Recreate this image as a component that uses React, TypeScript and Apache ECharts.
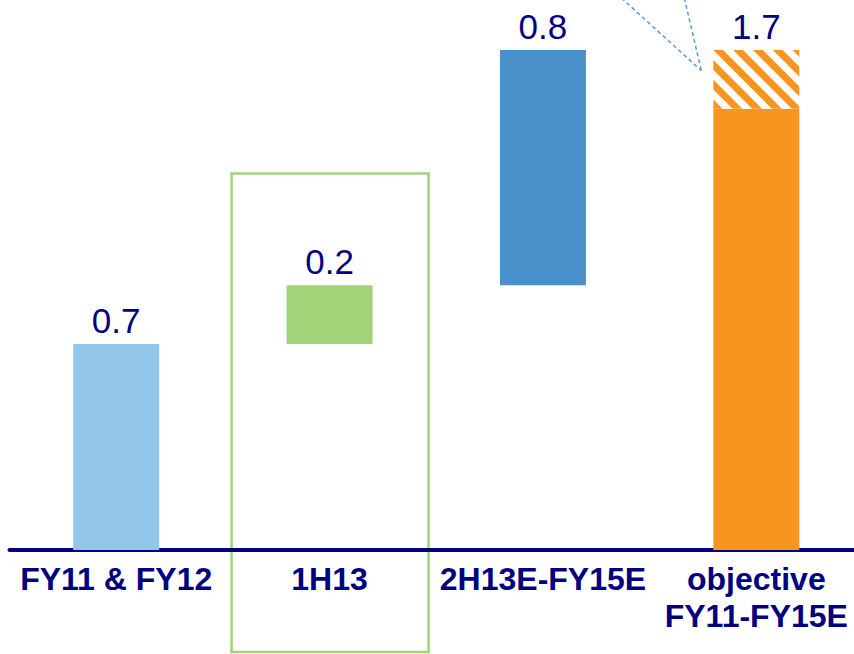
import React, { useEffect, useRef } from "react";
import * as echarts from "echarts";

// Waterfall categories and increments
const categories = ["FY11 & FY12", "1H13", "2H13E-FY15E", "objective\nFY11-FY15E"];
const increments = [0.7, 0.2, 0.8];
// Objective bar: firm part plus hatched buffer up to the total
const objectiveTotal = 1.7;
const objectiveFirm = 1.5;

const barColors = ["#92C6EB", "#A2D379", "#4A90CB", "#F7951F"];
const navy = "#000080";
const font = "'Liberation Sans', Arial, sans-serif";

export default function App() {
  const ref = useRef<HTMLDivElement>(null);

  useEffect(() => {
    if (!ref.current) return;
    const chart = echarts.init(ref.current, undefined, { renderer: "svg" });

    // running bases for the floating steps
    const bases: number[] = [];
    let acc = 0;
    increments.forEach((v) => {
      bases.push(acc);
      acc += v;
    });
    bases.push(0);

    const stepValues = [...increments, objectiveFirm];
    const hatchValues = categories.map((_, i) =>
      i === categories.length - 1 ? +(objectiveTotal - objectiveFirm).toFixed(2) : "-"
    );

    const valueLabel = {
      show: true,
      position: "top" as const,
      distance: 6,
      fontSize: 35,
      fontFamily: font,
      color: navy,
    };

    chart.setOption({
      animation: false,
      grid: { left: 9.5, right: 9, top: 0, bottom: 104 },
      xAxis: {
        type: "category",
        data: categories,
        axisLine: { lineStyle: { color: navy, width: 4 } },
        axisTick: { show: false },
        axisLabel: {
          color: navy,
          fontSize: 32,
          fontWeight: "bold",
          fontFamily: font,
          lineHeight: 37,
          margin: 10,
          interval: 0,
        },
      },
      yAxis: { type: "value", show: false, min: 0, max: 1.87, splitLine: { show: false } },
      series: [
        {
          type: "bar",
          stack: "wf",
          barWidth: 86,
          data: bases,
          itemStyle: { color: "transparent" },
          silent: true,
        },
        {
          type: "bar",
          stack: "wf",
          barWidth: 86,
          data: stepValues.map((v, i) => ({
            value: v,
            itemStyle: { color: barColors[i] },
            label: { show: i < increments.length },
          })),
          label: { ...valueLabel, formatter: (p: any) => p.value.toFixed(1) },
        },
        {
          type: "bar",
          stack: "wf",
          barWidth: 86,
          data: hatchValues,
          itemStyle: {
            color: "#ffffff",
            decal: {
              symbol: "rect",
              symbolSize: 1,
              color: barColors[3],
              dashArrayX: [1, 0],
              dashArrayY: [7, 7],
              rotation: Math.PI / 4,
            },
          },
          label: { ...valueLabel, formatter: () => objectiveTotal.toFixed(1) },
        },
      ],
    });

    // highlight frame around the 1H13 column and callout lines
    const cx = chart.convertToPixel({ xAxisIndex: 0 }, categories[1]) as number;
    const objX = chart.convertToPixel({ xAxisIndex: 0 }, categories[3]) as number;
    const frameTop = chart.convertToPixel({ yAxisIndex: 0 }, 1.28) as number;
    const tipY = chart.convertToPixel({ yAxisIndex: 0 }, 1.63) as number;
    const tipX = objX - 55;
    chart.setOption({
      graphic: [
        {
          type: "rect",
          shape: { x: cx - 98, y: frameTop, width: 197, height: 652 - frameTop },
          style: { fill: "none", stroke: "#A2D379", lineWidth: 2.5 },
        },
        {
          type: "line",
          shape: { x1: tipX - 80, y1: -2, x2: tipX, y2: tipY },
          style: { stroke: "#5B9BD5", lineWidth: 1.5, lineDash: [4, 3] },
        },
        {
          type: "line",
          shape: { x1: tipX - 17, y1: -2, x2: tipX, y2: tipY },
          style: { stroke: "#5B9BD5", lineWidth: 1.5, lineDash: [4, 3] },
        },
      ],
    });

    return () => chart.dispose();
  }, []);

  // the plot runs a little past the right edge, so the frame clips it
  return (
    <div
      style={{
        position: "absolute",
        left: 0,
        top: 0,
        width: 854,
        height: 654,
        overflow: "hidden",
        background: "#fff",
      }}
    >
      <div ref={ref} style={{ width: 872, height: 654 }} />
    </div>
  );
}
